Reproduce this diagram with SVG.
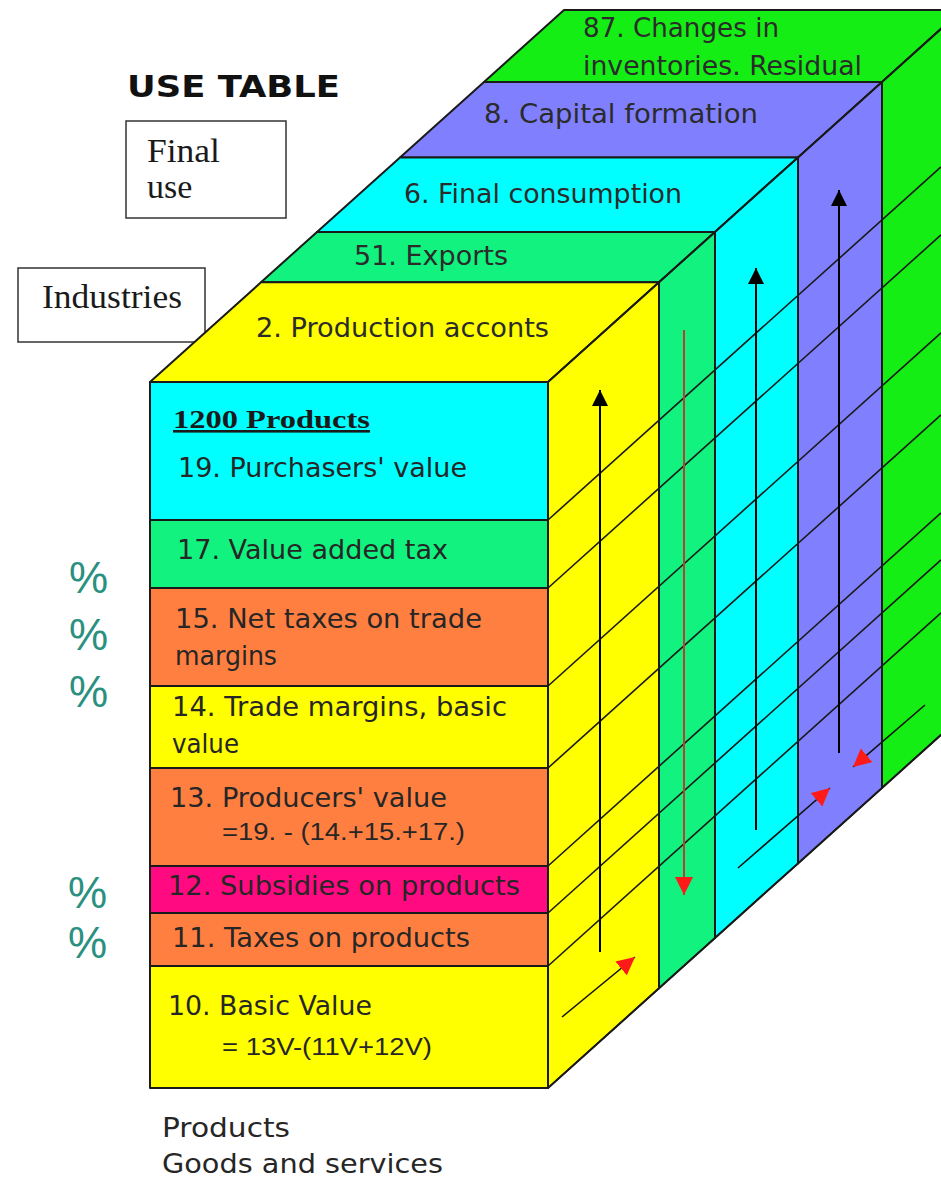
<svg xmlns="http://www.w3.org/2000/svg" width="941" height="1180" viewBox="0 0 941 1180">
<style>
.edge{stroke:#1a1a1a;stroke-width:2;stroke-linejoin:round}
.thin{stroke:#1a1a1a;stroke-width:1.6;fill:none}
.lbl{font-family:"DejaVu Sans","Liberation Sans",sans-serif;font-size:26px;fill:#2b2b2b}
.flbl{font-family:"DejaVu Sans","Liberation Sans",sans-serif;font-size:27px;fill:#262626}
.formula{font-family:"Liberation Sans",Arial,sans-serif;font-size:23px;fill:#262626}
.serif{font-family:"Liberation Serif","Times New Roman",serif;font-size:34px;fill:#1a1a1a}
.pct{font-family:"Liberation Sans",Arial,sans-serif;font-size:44px;fill:#2a9080}
.yel{fill:#FFFF00}.spg{fill:#12F27E}.cya{fill:#00FFFF}.pur{fill:#8080FF}.grn{fill:#14EE14}
.org{fill:#FF7F40}.mag{fill:#FF0A80}
</style>
<defs>
<marker id="ahBlack" viewBox="0 0 16 16" refX="16" refY="8" markerWidth="16" markerHeight="16" orient="auto" markerUnits="userSpaceOnUse">
<path d="M0,0 L16,8 L0,16 z" fill="#000"/>
</marker>
<marker id="ahRed" viewBox="0 0 18 18" refX="18" refY="9" markerWidth="18" markerHeight="18" orient="auto" markerUnits="userSpaceOnUse">
<path d="M0,0 L18,9 L0,18 z" fill="#FF1A1A"/>
</marker>
</defs>
<rect width="941" height="1180" fill="#ffffff"/>

<g id="title">
<text x="127" y="97" font-family="DejaVu Sans,Liberation Sans,sans-serif" font-size="31" font-weight="bold" fill="#111" textLength="213" lengthAdjust="spacingAndGlyphs">USE TABLE</text>
</g>

<g id="final-use-box">
<rect x="126" y="121" width="160" height="97" fill="#fff" stroke="#333" stroke-width="1.5"/>
<text class="serif" x="147" y="162" textLength="73" lengthAdjust="spacingAndGlyphs">Final</text>
<text class="serif" x="147" y="198">use</text>
</g>

<g id="industries-box">
<rect x="18" y="268" width="187" height="74" fill="#fff" stroke="#333" stroke-width="1.5"/>
<text class="serif" x="42" y="308" textLength="140" lengthAdjust="spacingAndGlyphs">Industries</text>
</g>

<g id="slab-87-inventories">
<polygon class="grn edge" points="484,81.9 882,81.9 962,10 564,10"/>
<polygon class="grn edge" points="882,81.9 962,10 962,716 882,787.9"/>
<text class="lbl" x="583" y="37" textLength="196" lengthAdjust="spacingAndGlyphs">87. Changes in</text>
<text class="lbl" x="583" y="75" textLength="279" lengthAdjust="spacingAndGlyphs">inventories. Residual</text>
</g>

<g id="slab-8-capital">
<polygon class="pur edge" points="400,157.4 798,157.4 882,81.9 484,81.9"/>
<polygon class="pur edge" points="798,157.4 882,81.9 882,787.9 798,863.4"/>
<text class="lbl" x="484" y="123" textLength="274" lengthAdjust="spacingAndGlyphs">8. Capital formation</text>
</g>

<g id="slab-6-consumption">
<polygon class="cya edge" points="317,231.9 715,231.9 798,157.4 400,157.4"/>
<polygon class="cya edge" points="715,231.9 798,157.4 798,863.4 715,937.9"/>
<text class="lbl" x="404" y="203" textLength="278" lengthAdjust="spacingAndGlyphs">6. Final consumption</text>
</g>

<g id="slab-51-exports">
<polygon class="spg edge" points="261,282.3 659,282.3 715,231.9 317,231.9"/>
<polygon class="spg edge" points="659,282.3 715,231.9 715,937.9 659,988.3"/>
<text class="lbl" x="354" y="265" textLength="154" lengthAdjust="spacingAndGlyphs">51. Exports</text>
</g>

<g id="slab-2-production">
<polygon class="yel edge" points="150,382 548,382 659,282.3 261,282.3"/>
<polygon class="yel edge" points="548,382 659,282.3 659,988.3 548,1088"/>
<text class="lbl" x="256" y="337" textLength="293" lengthAdjust="spacingAndGlyphs">2. Production acconts</text>
</g>

<g id="depth-lines">
<line class="thin" x1="548" y1="520" x2="941" y2="166.9"/>
<line class="thin" x1="548" y1="588" x2="941" y2="234.9"/>
<line class="thin" x1="548" y1="686" x2="941" y2="332.9"/>
<line class="thin" x1="548" y1="768" x2="941" y2="414.9"/>
<line class="thin" x1="548" y1="866" x2="941" y2="512.9"/>
<line class="thin" x1="548" y1="913" x2="941" y2="559.9"/>
<line class="thin" x1="548" y1="966" x2="941" y2="612.9"/>
<line class="thin" x1="548" y1="382" x2="941" y2="28.9"/>
<line class="thin" x1="548" y1="1088" x2="941" y2="734.9"/>
<line class="thin" x1="659" y1="282.3" x2="659" y2="988.3"/>
<line class="thin" x1="715" y1="231.9" x2="715" y2="937.9"/>
<line class="thin" x1="798" y1="157.4" x2="798" y2="863.4"/>
<line class="thin" x1="882" y1="81.9" x2="882" y2="787.9"/>
</g>

<g id="front-19-purchasers">
<rect class="cya edge" x="150" y="382" width="398" height="138"/>
<text x="173" y="428" font-family="Liberation Serif,Times New Roman,serif" font-size="26" font-weight="bold" fill="#1a1a1a" text-decoration="underline" textLength="197" lengthAdjust="spacingAndGlyphs">1200 Products</text>
<text class="flbl" x="178" y="477" textLength="289" lengthAdjust="spacingAndGlyphs">19. Purchasers' value</text>
</g>
<g id="front-17-vat">
<rect class="spg edge" x="150" y="520" width="398" height="68"/>
<text class="flbl" x="177" y="559" textLength="271" lengthAdjust="spacingAndGlyphs">17. Value added tax</text>
</g>
<g id="front-15-net-taxes">
<rect class="org edge" x="150" y="588" width="398" height="98"/>
<text class="flbl" x="175" y="628" textLength="307" lengthAdjust="spacingAndGlyphs">15. Net taxes on trade</text>
<text class="flbl" x="175" y="665" textLength="102" lengthAdjust="spacingAndGlyphs">margins</text>
</g>
<g id="front-14-trade-margins">
<rect class="yel edge" x="150" y="686" width="398" height="82"/>
<text class="flbl" x="172" y="716" textLength="335" lengthAdjust="spacingAndGlyphs">14. Trade margins, basic</text>
<text class="flbl" x="172" y="753" textLength="67" lengthAdjust="spacingAndGlyphs">value</text>
</g>
<g id="front-13-producers">
<rect class="org edge" x="150" y="768" width="398" height="98"/>
<text class="flbl" x="170" y="807" textLength="277" lengthAdjust="spacingAndGlyphs">13. Producers' value</text>
<text class="formula" x="222" y="840" textLength="243" lengthAdjust="spacingAndGlyphs">=19. - (14.+15.+17.)</text>
</g>
<g id="front-12-subsidies">
<rect class="mag edge" x="150" y="866" width="398" height="47"/>
<text class="flbl" x="168" y="895" textLength="352" lengthAdjust="spacingAndGlyphs">12. Subsidies on products</text>
</g>
<g id="front-11-taxes">
<rect class="org edge" x="150" y="913" width="398" height="53"/>
<text class="flbl" x="172" y="947" textLength="298" lengthAdjust="spacingAndGlyphs">11. Taxes on products</text>
</g>
<g id="front-10-basic">
<rect class="yel edge" x="150" y="966" width="398" height="122"/>
<text class="flbl" x="168" y="1015" textLength="204" lengthAdjust="spacingAndGlyphs">10. Basic Value</text>
<text class="formula" x="222" y="1055" textLength="210" lengthAdjust="spacingAndGlyphs">= 13V-(11V+12V)</text>
</g>

<g id="products-caption">
<text class="flbl" x="162" y="1137" textLength="128" lengthAdjust="spacingAndGlyphs">Products</text>
<text class="flbl" x="162" y="1173" textLength="281" lengthAdjust="spacingAndGlyphs">Goods and services</text>
</g>

<g id="percent-marks">
<text class="pct" x="69" y="593">%</text>
<text class="pct" x="69" y="650">%</text>
<text class="pct" x="69" y="707">%</text>
<text class="pct" x="68" y="908">%</text>
<text class="pct" x="68" y="958">%</text>
</g>

<g id="connectors">
<line x1="600" y1="952" x2="600" y2="390" stroke="#000" stroke-width="2" marker-end="url(#ahBlack)"/>
<line x1="684" y1="330" x2="684" y2="895" stroke="#B8402E" stroke-width="2" marker-end="url(#ahRed)"/>
<line x1="756" y1="830" x2="756" y2="268" stroke="#000" stroke-width="2" marker-end="url(#ahBlack)"/>
<line x1="839" y1="753" x2="839" y2="190" stroke="#000" stroke-width="2" marker-end="url(#ahBlack)"/>
<line x1="562" y1="1017" x2="635" y2="957" stroke="#111" stroke-width="1.6" marker-end="url(#ahRed)"/>
<line x1="738" y1="868" x2="830" y2="788" stroke="#111" stroke-width="1.6" marker-end="url(#ahRed)"/>
<line x1="925" y1="705" x2="853" y2="767" stroke="#111" stroke-width="1.6" marker-end="url(#ahRed)"/>
</g>
</svg>
